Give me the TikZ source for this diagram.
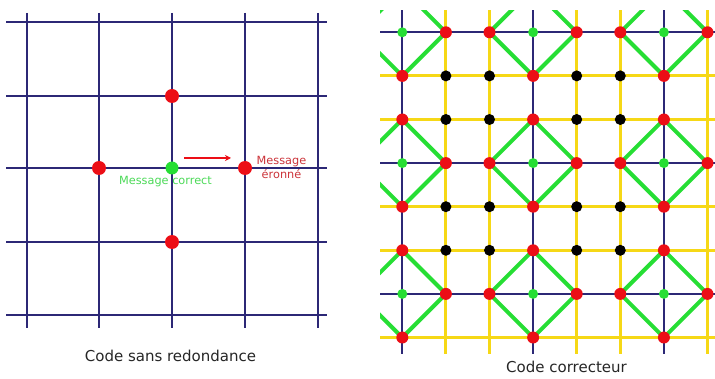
\documentclass[tikz,border=0pt]{standalone}
\usepackage{fontspec}
\setmainfont{DejaVu Sans}
\usepackage{xcolor}
\usetikzlibrary{arrows.meta}

\definecolor{gridblue}{RGB}{44,40,118}
\definecolor{gridyellow}{RGB}{246,216,22}
\definecolor{linkgreen}{RGB}{38,222,52}
\definecolor{dotred}{RGB}{236,14,22}
\definecolor{txtred}{RGB}{204,52,58}
\definecolor{txtgreen}{RGB}{76,218,88}

\begin{document}
\begin{tikzpicture}[x=1pt, y=-1pt,
  blueline/.style={draw=gridblue, line width=2pt},
  yellowline/.style={draw=gridyellow, line width=3pt},
  greenline/.style={draw=linkgreen, line width=4pt},
  errdot/.style={circle, fill=dotred, inner sep=0pt, minimum size=#1},
  okdot/.style={circle, fill=linkgreen, inner sep=0pt, minimum size=#1},
  voiddot/.style={circle, fill=black, inner sep=0pt, minimum size=11pt},
  caption/.style={font=\fontsize{15}{18}\selectfont, text=black!85},
  label/.style={font=\fontsize{11.3}{13.5}\selectfont, align=center, inner sep=0pt}]
\useasboundingbox (0,0) rectangle (715,379);
\fill[white] (0,0) rectangle (715,379);

% code sans redondance
\foreach \v in {27,99,172,245,318}
  \draw[blueline] (\v,13) -- (\v,328);
\foreach \h in {22,96,168,242,315}
  \draw[blueline] (6,\h) -- (327,\h);
\node[errdot=14pt] (up) at (172,96) {};
\node[errdot=14pt] (left) at (99,168) {};
\node[errdot=14pt] (right) at (245,168) {};
\node[errdot=14pt] (down) at (172,242) {};
\node[okdot=13pt] (sent) at (172,168) {};
\node[label, text=txtgreen] (okmsg) at (165.5,182) {Message correct};
\node[label, text=txtred] (errmsg) at (281.5,167.5) {Message\\éronné};
\coordinate (arrS) at (184,158);
\coordinate (arrE) at (231,158);
\draw[-{Stealth[length=6pt,width=6pt]}, dotred, line width=1.6pt] (arrS) -- (arrE);
\node[caption] (capL) at (170.5,356) {Code sans redondance};

% code correcteur
\begin{scope}[shift={(402.3pt,-32.3pt)}, x=43.6pt, y=-43.6pt]
  \foreach \k in {1,2,4,5,7} {
    \draw[yellowline] (\k,-0.51) -- (\k,7.37);
    \draw[yellowline] (-0.51,\k) -- (7.6,\k);
  }
  \foreach \k in {0,3,6} {
    \draw[blueline] (\k,-0.51) -- (\k,7.37);
    \draw[blueline] (-0.51,\k) -- (7.6,\k);
  }
  \begin{scope}
    \clip (-0.51,-0.51) rectangle (7.6,7.37);
    \foreach \i in {0,3,6}
      \foreach \j in {0,3,6}
        \draw[greenline, line join=round] (\i-1,\j) -- (\i,\j-1) -- (\i+1,\j) -- (\i,\j+1) -- cycle;
  \end{scope}
  \foreach \i in {0,3,6}
    \foreach \k in {1,2,4,5,7} {
      \node[errdot=12pt] (r\k\i) at (\k,\i) {};
      \node[errdot=12pt] (r\i\k) at (\i,\k) {};
    }
  \foreach \i in {0,3,6}
    \foreach \j in {0,3,6}
      \node[okdot=10pt] (g\i\j) at (\i,\j) {};
  \foreach \i in {1,2,4,5}
    \foreach \j in {1,2,4,5}
      \node[voiddot] (b\i\j) at (\i,\j) {};
\end{scope}
\node[caption] (capR) at (566.5,367) {Code correcteur};
\end{tikzpicture}
\end{document}
